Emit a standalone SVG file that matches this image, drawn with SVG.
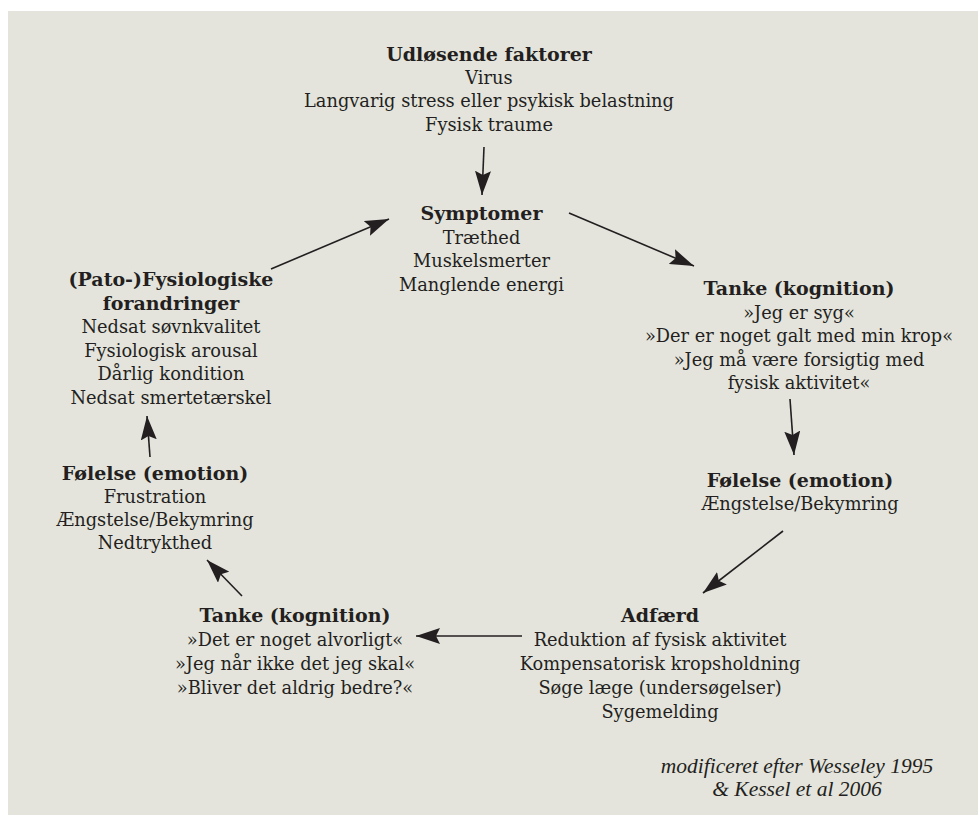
<svg xmlns="http://www.w3.org/2000/svg" width="978" height="815" viewBox="0 0 978 815">
<defs>
<marker id="ah" viewBox="0 0 24 16" refX="24" refY="8" markerWidth="24" markerHeight="16" markerUnits="userSpaceOnUse" orient="auto">
<path d="M0,0 L24,8 L0,16 L4,8 Z" fill="#231f20"/>
</marker>
<style>
text{font-family:"DejaVu Serif","Liberation Serif",serif;font-size:17.8px;fill:#231f20;text-anchor:middle}
.b{font-weight:bold;font-size:19px}
.i{font-family:"Liberation Serif","DejaVu Serif",serif;font-style:italic;font-size:21.5px}
.c line{stroke:#231f20;stroke-width:1.6;marker-end:url(#ah)}
</style>
</defs>
<rect x="8" y="11" width="970" height="804" fill="#e4e4dc"/>
<g id="udlosende">
<text x="489" y="60.5" class="b">Udløsende faktorer</text>
<text x="489" y="84">Virus</text>
<text x="489" y="107">Langvarig stress eller psykisk belastning</text>
<text x="489" y="130.5">Fysisk traume</text>
</g>
<g id="symptomer">
<text x="481.5" y="220" class="b">Symptomer</text>
<text x="481.5" y="244">Træthed</text>
<text x="481.5" y="267">Muskelsmerter</text>
<text x="481.5" y="291">Manglende energi</text>
</g>
<g id="tanke-hojre">
<text x="799" y="295" class="b">Tanke (kognition)</text>
<text x="799" y="318.5">»Jeg er syg«</text>
<text x="799" y="342">»Der er noget galt med min krop«</text>
<text x="799" y="365.5">»Jeg må være forsigtig med</text>
<text x="799" y="389">fysisk aktivitet«</text>
</g>
<g id="folelse-hojre">
<text x="800" y="487" class="b">Følelse (emotion)</text>
<text x="800" y="510">Ængstelse/Bekymring</text>
</g>
<g id="adfaerd">
<text x="660" y="622" class="b">Adfærd</text>
<text x="660" y="646">Reduktion af fysisk aktivitet</text>
<text x="660" y="670">Kompensatorisk kropsholdning</text>
<text x="660" y="694">Søge læge (undersøgelser)</text>
<text x="660" y="718">Sygemelding</text>
</g>
<g id="tanke-venstre">
<text x="295" y="622" class="b">Tanke (kognition)</text>
<text x="295" y="646">»Det er noget alvorligt«</text>
<text x="295" y="670">»Jeg når ikke det jeg skal«</text>
<text x="295" y="694">»Bliver det aldrig bedre?«</text>
</g>
<g id="folelse-venstre">
<text x="155" y="480" class="b">Følelse (emotion)</text>
<text x="155" y="503">Frustration</text>
<text x="155" y="526">Ængstelse/Bekymring</text>
<text x="155" y="549">Nedtrykthed</text>
</g>
<g id="fysiologiske">
<text x="171" y="286" class="b">(Pato-)Fysiologiske</text>
<text x="171" y="309.5" class="b">forandringer</text>
<text x="171" y="333">Nedsat søvnkvalitet</text>
<text x="171" y="356.5">Fysiologisk arousal</text>
<text x="171" y="380">Dårlig kondition</text>
<text x="171" y="403.5">Nedsat smertetærskel</text>
</g>
<g id="kilde">
<text x="797" y="773" class="i">modificeret efter Wesseley 1995</text>
<text x="797" y="796" class="i">&amp; Kessel et al 2006</text>
</g>
<g id="connectors" class="c">
<line x1="484" y1="147" x2="482" y2="195"/>
<line x1="569" y1="213" x2="694" y2="266"/>
<line x1="790" y1="399" x2="794" y2="455"/>
<line x1="783" y1="531" x2="703" y2="593"/>
<line x1="522" y1="636" x2="416" y2="636"/>
<line x1="242" y1="596" x2="207" y2="560"/>
<line x1="150" y1="457" x2="147" y2="416"/>
<line x1="271" y1="269" x2="389" y2="219"/>
</g>
</svg>
